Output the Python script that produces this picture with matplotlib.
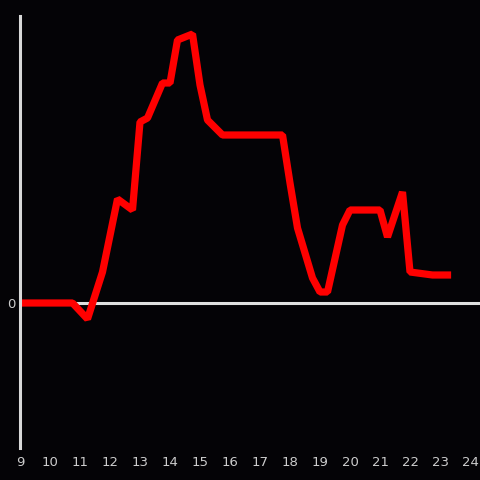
import matplotlib
matplotlib.use("Agg")
import matplotlib.pyplot as plt

# corner points of the red line (hour of day, value)
hours = [9.0, 10.75, 11.25, 11.75, 12.25, 12.75, 13.0, 13.25, 13.75, 14.0,
         14.25, 14.75, 15.0, 15.25, 15.75, 17.75, 18.0, 18.25, 18.75, 19.0,
         19.25, 19.75, 20.0, 21.0, 21.25, 21.75, 22.0, 22.75, 23.25]
values = [0, 0, -16, 31, 104, 93, 181, 185, 220, 220,
          263, 269, 218, 183, 168, 168, 120, 75, 25, 11,
          11, 78, 93, 93, 66, 111, 31, 28, 28]

xticks = list(range(9, 25))

bg = "#040306"
fig = plt.figure(figsize=(4.8, 4.8), dpi=100, facecolor=bg)
ax = fig.add_axes([20 / 480, 1 - 448 / 480, 460 / 480, 432 / 480])
ax.set_facecolor(bg)

ax.axhline(0, color="#e0e0e0", lw=2.2, zorder=1)
ax.plot(hours, values, color="#ff0000", lw=5.2, solid_joinstyle="bevel", zorder=2)

ax.set_xlim(9, 24.333)
ax.set_ylim(-145, 287)

for s in ["top", "right", "bottom"]:
    ax.spines[s].set_visible(False)
ax.spines["left"].set_color("#d8d8d8")
ax.spines["left"].set_linewidth(2.2)

ax.set_xticks(xticks)
ax.set_xticklabels([str(t) for t in xticks])
ax.set_yticks([0])
ax.set_yticklabels(["0"])
ax.tick_params(length=0, colors="#cccccc", labelsize=9.5)
ax.tick_params(axis="x", pad=6)
ax.tick_params(axis="y", pad=3)

fig.savefig("out.png", dpi=100, facecolor=bg)
